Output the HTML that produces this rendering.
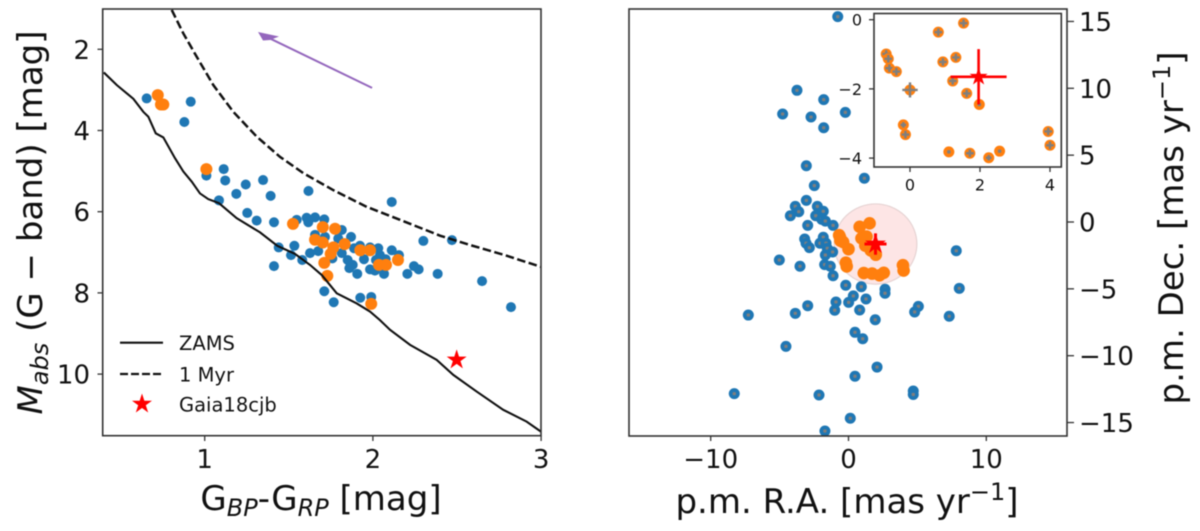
<!DOCTYPE html>
<html lang="en">
<head>
<meta charset="utf-8">
<title>Gaia18cjb colour-magnitude and proper-motion diagrams</title>
<style>
  html, body { margin: 0; padding: 0; background: #fff; }
  body { width: 1200px; height: 531px; overflow: hidden; }
  svg { display: block; font-family: "DejaVu Sans", "Liberation Sans", sans-serif; fill: #111; filter: blur(0.5px); }
  .frame { fill: none; stroke: #333; stroke-width: 1.6; }
  .tick { stroke: #333; stroke-width: 1.3; }
  .tl { font-size: 26px; }
  .itl { font-size: 16px; }
  .al { font-size: 34px; }
  .lg { font-size: 19.5px; }
</style>
</head>
<body>
<svg id="fig" width="1200" height="531" viewBox="0 0 1200 531">
  <defs>
    <clipPath id="clip-left"><rect x="103" y="9" width="438" height="427"/></clipPath>
    <clipPath id="clip-right"><rect x="629" y="9" width="438" height="427"/></clipPath>
  </defs>
  <rect x="0" y="0" width="1200" height="531" fill="#fff"/>
  <g id="left-plot"></g>
  <g id="right-plot"></g>
  <g id="inset-plot"></g>

  <text class="al" x="321" y="510" text-anchor="middle">G<tspan font-size="24" font-style="italic" dy="6">BP</tspan><tspan dy="-6">-G</tspan><tspan font-size="24" font-style="italic" dy="6">RP</tspan><tspan dy="-6"> [mag]</tspan></text>
  <text class="al" transform="translate(42,222.5) rotate(-90)" text-anchor="middle"><tspan font-style="italic">M</tspan><tspan font-size="24" font-style="italic" dy="6">abs</tspan><tspan dy="-6"> (G − band) [mag]</tspan></text>
  <text class="al" x="847" y="513" text-anchor="middle">p.m. R.A. [mas yr<tspan font-size="24" dy="-13">−1</tspan><tspan dy="13">]</tspan></text>
  <text class="al" transform="translate(1183,228) rotate(-90)" text-anchor="middle">p.m. Dec. [mas yr<tspan font-size="24" dy="-13">−1</tspan><tspan dy="13">]</tspan></text>

  <g>
    <line x1="120" x2="163" y1="342.7" y2="342.7" stroke="#111" stroke-width="2.2"/>
    <text class="lg" x="179" y="350">ZAMS</text>
    <line x1="120" x2="163" y1="374" y2="374" stroke="#111" stroke-width="2.2" stroke-dasharray="8 3"/>
    <text class="lg" x="179" y="381.5">1 Myr</text>
    <text class="lg" x="179" y="411.5">Gaia18cjb</text>
  </g>
</svg>
<script>
// Left panel: colour-magnitude data
const zamsColor = [0.40,0.477,0.576,0.635,0.665,0.709,0.754,0.823,0.873,0.923,0.972,1.021,1.085,1.190,1.329,1.432,1.537,1.626,1.696,1.785,1.904,1.983,2.042,2.102,2.221,2.379,2.478,2.617,2.775,2.914,3.0];
const zamsMag = [2.57,2.88,3.22,3.54,3.66,4.07,4.17,4.68,5.01,5.26,5.55,5.69,5.79,6.16,6.51,6.84,7.04,7.31,7.56,8.01,8.26,8.46,8.67,8.91,9.28,9.65,10.02,10.43,10.88,11.17,11.42];
const myrColor = [0.804,0.873,0.952,1.051,1.170,1.309,1.448,1.586,1.765,1.963,2.161,2.399,2.577,2.785,3.0];
const myrMag = [1.03,1.61,2.18,2.88,3.54,4.15,4.65,5.05,5.47,5.88,6.20,6.59,6.82,7.07,7.36];
const cmdBlueColor = [0.655,0.917,0.879,1.010,1.113,1.122,1.244,1.347,1.188,1.392,1.617,1.085,1.253,1.309,1.412,2.112,1.547,1.606,1.656,1.616,1.711,1.656,1.715,1.815,1.794,1.870,1.440,1.533,1.513,1.580,1.412,1.626,1.675,1.759,1.815,1.850,1.880,1.860,1.907,1.888,1.923,1.983,1.947,2.032,2.042,2.018,2.076,1.983,2.012,2.066,2.112,2.155,2.205,2.244,2.272,2.300,2.385,2.470,2.649,2.821,1.711,1.767,1.925,1.990];
const cmdBlueMag = [3.21,3.29,3.79,5.11,4.95,5.23,5.33,5.22,5.56,5.61,5.49,5.72,6.03,6.22,6.26,5.76,6.20,6.15,6.14,6.26,6.19,6.57,6.62,6.45,6.66,6.62,6.88,6.84,7.07,7.19,7.34,7.02,6.97,7.15,7.02,7.19,7.31,7.39,7.53,6.90,6.84,6.88,7.17,6.90,7.07,7.19,7.17,7.42,7.45,7.53,6.95,7.07,7.53,7.34,7.42,6.72,7.53,6.70,7.71,8.35,7.96,8.23,8.12,8.10];
const cmdOrangeColor = [0.721,0.740,0.754,1.010,1.525,1.702,1.775,1.656,1.702,1.832,1.765,1.749,1.711,1.729,1.925,1.983,2.036,2.078,2.149,1.990];
const cmdOrangeMag = [3.13,3.36,3.36,4.95,6.30,6.38,6.42,6.69,6.76,6.80,6.88,7.04,7.26,7.58,6.95,6.95,7.31,7.31,7.19,8.27];
const gaiaColor = 2.498;
const gaiaMag = 9.65;
const arrowTail = [1.995, 2.95];
const arrowTip = [1.323, 1.60];
const cmdXTicks = [1, 2, 3];
const cmdYTicks = [2, 4, 6, 8, 10];

// Right panel: proper-motion data
const pmBlueRa = [-0.78,-3.74,-1.80,-4.78,-2.72,-0.23,-1.80,-3.06,-2.48,1.15,-3.06,-3.86,-3.61,-4.22,-2.26,-1.83,-2.38,-1.94,-1.68,-1.12,-2.96,-3.18,-1.83,-3.08,-2.84,-2.07,-1.63,-1.54,-1.15,-1.68,-5.02,-3.52,-1.73,-1.32,-1.12,-0.20,0.93,2.65,2.65,0.35,0.01,1.27,-0.91,-1.00,-2.96,-3.86,-7.27,0.81,1.94,5.07,4.80,7.31,7.82,8.04,0.47,1.03,-4.54,2.07,0.47,-8.29,-2.14,4.70,4.70,0.13,-1.71];
const pmBlueDec = [15.36,9.85,9.15,8.08,7.85,8.20,7.05,4.21,2.72,3.27,1.62,1.17,0.77,0.47,1.17,0.80,0.47,0.20,0.07,-0.25,-0.25,-1.27,-1.14,-1.59,-1.92,-1.59,-1.59,-1.97,-2.24,-2.47,-2.84,-3.31,-3.19,-3.31,-4.02,-4.73,-4.84,-5.03,-5.33,-5.53,-6.01,-5.76,-5.98,-6.60,-6.26,-6.83,-6.96,-6.58,-7.31,-6.31,-6.73,-7.05,-2.15,-4.96,-8.25,-8.73,-9.30,-10.85,-11.54,-12.84,-12.94,-12.64,-12.90,-14.68,-15.63];
const pmOrangeRa = [1.53,0.81,-0.68,-0.62,-0.59,-0.39,0,0.94,1.31,1.22,1.62,1.98,-0.19,-0.13,1.11,1.71,2.25,2.56,3.95,4.0];
const pmOrangeDec = [-0.10,-0.36,-0.99,-1.13,-1.40,-1.50,-2.03,-1.22,-1.09,-1.77,-2.13,-2.45,-3.04,-3.32,-3.82,-3.86,-3.99,-3.80,-3.23,-3.63];
const pmOrangeErr = [0.11,0.11,0.11,0.11,0.11,0.11,0.22,0.11,0.11,0.11,0.11,0.05,0.08,0.11,0.05,0.11,0.08,0.05,0.11,0.11];
const pmBlueErr = [0.12];
const gaiaRa = 1.96;
const gaiaDec = -1.65;
const gaiaErr = 0.8;
const selectRadius = 3;
const pmXTicks = [-10, 0, 10];
const pmYTicks = [15, 10, 5, 0, -5, -10, -15];
const insetXTicks = [0, 2, 4];
const insetYTicks = [0, -2, -4];

// Axis functions
const cmdX = v => 204.7 + (v - 1) * 168.2;
const cmdY = v => 49.3 + (v - 2) * 40.6;
const pmX = v => 848.5 + v * 13.78;
const pmY = v => 222 - v * 13.37;
const insetX = v => 910 + v * 35;
const insetY = v => 19.7 - v * 34.6;

const NS = 'http://www.w3.org/2000/svg';
function mk(parent, tag, attrs) {
  const n = document.createElementNS(NS, tag);
  for (const k in attrs) n.setAttribute(k, attrs[k]);
  parent.appendChild(n);
  return n;
}
function starPoints(cx, cy, r) {
  const pts = [];
  for (let i = 0; i < 10; i++) {
    const rad = i % 2 ? r * 0.382 : r;
    const a = -Math.PI / 2 + i * Math.PI / 5;
    pts.push((cx + rad * Math.cos(a)).toFixed(2) + ',' + (cy + rad * Math.sin(a)).toFixed(2));
  }
  return pts.join(' ');
}
function linePath(xs, ys, fx, fy) {
  return xs.map((v, i) => (i ? 'L' : 'M') + fx(v).toFixed(2) + ' ' + fy(ys[i]).toFixed(2)).join(' ');
}

const left = document.getElementById('left-plot');
const right = document.getElementById('right-plot');
const inset = document.getElementById('inset-plot');
let el;

// ---- Left panel ----
cmdBlueColor.forEach((c, i) => {
  el = mk(left, 'circle', {cx: cmdX(c), cy: cmdY(cmdBlueMag[i]), r: 5, fill: '#1f77b4'});
  
  
});
cmdOrangeColor.forEach((c, i) => {
  el = mk(left, 'circle', {cx: cmdX(c), cy: cmdY(cmdOrangeMag[i]), r: 6, fill: '#ff7f0e'});
  
  
});
el = mk(left, 'path', {d: linePath(zamsColor, zamsMag, cmdX, cmdY), fill: 'none', stroke: '#111', 'stroke-width': 2.1, 'clip-path': 'url(#clip-left)'});


el = mk(left, 'path', {d: linePath(myrColor, myrMag, cmdX, cmdY), fill: 'none', stroke: '#111', 'stroke-width': 2.5, 'stroke-dasharray': '8.5 3.5', 'clip-path': 'url(#clip-left)'});


el = mk(left, 'polygon', {points: starPoints(cmdX(gaiaColor), cmdY(gaiaMag), 10.5), fill: '#ff0000'});


el = mk(left, 'polygon', {points: starPoints(142, 404, 10.5), fill: '#ff0000'});



const tipX = cmdX(arrowTip[0]), tipY = cmdY(arrowTip[1]);
el = mk(left, 'line', {x1: cmdX(arrowTail[0]), y1: cmdY(arrowTail[1]), x2: tipX + 8, y2: tipY + 4, stroke: '#9467bd', 'stroke-width': 2});


el = mk(left, 'polygon', {points: `${tipX - 1},${tipY - 1} ${tipX + 20},${tipY + 3.5} ${tipX + 11},${tipY + 7} ${tipX + 4},${tipY + 7.5}`, fill: '#9467bd'});



el = mk(left, 'rect', {x: 102.7, y: 9, width: 438.3, height: 426.7, class: 'frame'});



cmdXTicks.forEach(t => {
  el = mk(left, 'line', {x1: cmdX(t), x2: cmdX(t), y1: 436, y2: 441, class: 'tick'});
  
  
  el = mk(left, 'text', {x: cmdX(t), y: 468, 'text-anchor': 'middle', class: 'tl'});
  el.textContent = String(t);
  
  
});
cmdYTicks.forEach(t => {
  el = mk(left, 'line', {x1: 97.5, x2: 102.7, y1: cmdY(t), y2: cmdY(t), class: 'tick'});
  
  
  el = mk(left, 'text', {x: 90, y: cmdY(t) + 9.5, 'text-anchor': 'end', class: 'tl'});
  el.textContent = String(t);
  
  
});

// ---- Right panel ----
function errCross(parent, fx, fy, ra, dec, err, color, width, name) {
  const c = mk(parent, 'path', {
    d: `M${fx(ra - err)} ${fy(dec)} L${fx(ra + err)} ${fy(dec)} M${fx(ra)} ${fy(dec - err)} L${fx(ra)} ${fy(dec + err)}`,
    stroke: color, 'stroke-width': width, fill: 'none'
  });
  
  
}
el = mk(right, 'ellipse', {
  cx: pmX(gaiaRa), cy: pmY(gaiaDec),
  rx: Math.abs(pmX(selectRadius) - pmX(0)), ry: Math.abs(pmY(selectRadius) - pmY(0)),
  fill: '#fde5e5', stroke: '#e6d3d3', 'stroke-width': 1.2
});


pmBlueRa.forEach((ra, i) => {
  el = mk(right, 'circle', {cx: pmX(ra), cy: pmY(pmBlueDec[i]), r: 5.5, fill: '#1f77b4'});
  
  
  errCross(right, pmX, pmY, ra, pmBlueDec[i], pmBlueErr[0], '#7f7f7f', 2.4, 'pm-error-bar');
});
pmOrangeRa.forEach((ra, i) => {
  el = mk(right, 'circle', {cx: pmX(ra), cy: pmY(pmOrangeDec[i]), r: 6.3, fill: '#ff7f0e'});
  
  
});
errCross(right, pmX, pmY, gaiaRa, gaiaDec, gaiaErr, '#ff0000', 3, 'gaia18cjb-error-bar');
el = mk(right, 'polygon', {points: starPoints(pmX(gaiaRa), pmY(gaiaDec), 11), fill: '#ff0000'});



el = mk(right, 'rect', {x: 629, y: 9, width: 438, height: 427, class: 'frame'});



pmXTicks.forEach(t => {
  el = mk(right, 'line', {x1: pmX(t), x2: pmX(t), y1: 436, y2: 441, class: 'tick'});
  
  
  el = mk(right, 'text', {x: pmX(t), y: 468, 'text-anchor': 'middle', class: 'tl'});
  el.textContent = t < 0 ? '−' + (-t) : String(t);
  
  
});
pmYTicks.forEach(t => {
  el = mk(right, 'line', {x1: 1067, x2: 1074, y1: pmY(t), y2: pmY(t), class: 'tick'});
  
  
  el = mk(right, 'text', {x: 1079, y: pmY(t) + 9.5, class: 'tl'});
  el.textContent = t < 0 ? '−' + (-t) : String(t);
  
  
});

// ---- Inset ----
el = mk(inset, 'rect', {x: 874, y: 13.5, width: 187.3, height: 153.5, fill: '#fff', stroke: 'none'});


pmOrangeRa.forEach((ra, i) => {
  el = mk(inset, 'circle', {cx: insetX(ra), cy: insetY(pmOrangeDec[i]), r: 5.5, fill: '#ff7f0e'});
  
  
  errCross(inset, insetX, insetY, ra, pmOrangeDec[i], pmOrangeErr[i], '#7f7f7f', 2.4, 'inset-error-bar');
});
errCross(inset, insetX, insetY, gaiaRa, gaiaDec, gaiaErr, '#ff0000', 2.6, 'inset-gaia18cjb-error-bar');
el = mk(inset, 'polygon', {points: starPoints(insetX(gaiaRa), insetY(gaiaDec), 9.5), fill: '#ff0000'});


el = mk(inset, 'rect', {x: 874, y: 13.5, width: 187.3, height: 153.5, class: 'frame'});


insetXTicks.forEach(t => {
  el = mk(inset, 'line', {x1: insetX(t), x2: insetX(t), y1: 167, y2: 172, class: 'tick'});
  
  
  el = mk(inset, 'text', {x: insetX(t), y: 190.5, 'text-anchor': 'middle', class: 'itl'});
  el.textContent = String(t);
  
  
});
insetYTicks.forEach(t => {
  el = mk(inset, 'line', {x1: 869, x2: 874, y1: insetY(t), y2: insetY(t), class: 'tick'});
  
  
  el = mk(inset, 'text', {x: 862, y: insetY(t) + 6, 'text-anchor': 'end', class: 'itl'});
  el.textContent = t < 0 ? '−' + (-t) : String(t);
  
  
});
</script>
</body>
</html>
